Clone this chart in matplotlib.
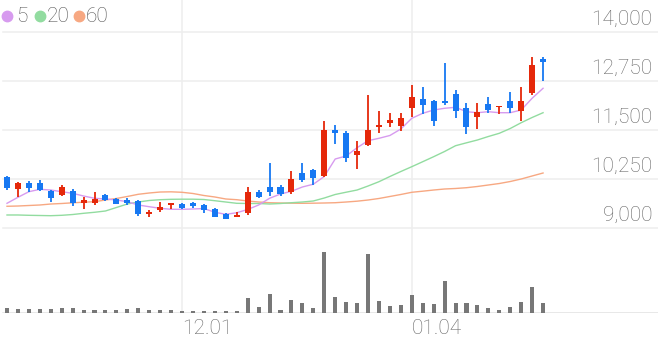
import numpy as np
import pandas as pd
import matplotlib
matplotlib.use("Agg")
import matplotlib.pyplot as plt
from matplotlib.lines import Line2D

# Trading days (KRX, Nov 2020 - Jan 2021)
dates = pd.bdate_range("2020-11-09", "2021-01-20")
dates = dates[~dates.isin(pd.to_datetime(["2020-12-25", "2020-12-31", "2021-01-01"]))]
date_labels = dates.strftime("%m.%d").tolist()
tick_labels = ["12.01", "01.04"]

open_ = [10301, 9987, 10156, 10140, 9944, 9834, 9944, 9645, 9630, 9842,
         9747, 9714, 9696, 9357, 9467, 9587, 9612, 9630, 9587, 9492,
         9349, 9281, 9375, 9911, 10054, 10054, 9918, 10395, 10480, 10327,
         11500, 11416, 10862, 11117, 11569, 11666, 11594, 12054, 12298, 12247,
         12247, 12411, 12054, 11824, 12156, 12079, 12247, 11985, 12436, 13311]
high = [10320, 10181, 10207, 10224, 9960, 10089, 9987, 9783, 9911, 9867,
        9760, 9758, 9710, 9459, 9671, 9650, 9630, 9671, 9600, 9510,
        9375, 9416, 10038, 9969, 10650, 10089, 10462, 10650, 10497, 11730,
        11628, 11474, 11219, 12393, 11985, 11926, 11941, 12648, 12589, 12260,
        13202, 12520, 12181, 12181, 12334, 12112, 12477, 12589, 13355, 13355]
low = [9969, 9798, 9911, 9951, 9671, 9816, 9561, 9477, 9587, 9689,
       9605, 9587, 9306, 9288, 9416, 9485, 9485, 9518, 9390, 9280,
       9222, 9270, 9332, 9775, 9824, 9824, 9867, 10181, 10097, 10309,
       11143, 10691, 10497, 11092, 11416, 11584, 11482, 11839, 11908, 11602,
       12138, 11798, 11398, 11526, 11941, 11901, 11941, 11737, 12393, 12758]
close = [10020, 10156, 10020, 9969, 9773, 10054, 9630, 9714, 9747, 9714,
         9620, 9645, 9365, 9416, 9528, 9645, 9503, 9561, 9459, 9288,
         9237, 9339, 9911, 9783, 9911, 9860, 10250, 10224, 10268, 11500,
         11416, 10778, 10964, 11500, 11620, 11747, 11798, 12349, 12138, 11730,
         12181, 11992, 11584, 11952, 12010, 12112, 12054, 12247, 13158, 13242]
volume = [50000, 40000, 35000, 35000, 35000, 45000, 45000, 30000, 30000, 30000,
          30000, 35000, 45000, 30000, 30000, 25000, 20000, 20000, 20000, 20000,
          20000, 20000, 150000, 60000, 190000, 33000, 130000, 100000, 47000, 607000,
          163000, 113000, 100000, 590000, 123000, 67000, 80000, 183000, 97000, 90000,
          323000, 100000, 97000, 83000, 50000, 30000, 63000, 113000, 257000, 97000]

ma5 = [9630, 9783, 9926, 9987, 9969, 9926, 9885, 9816, 9758, 9740,
       9714, 9671, 9587, 9543, 9503, 9477, 9477, 9485, 9497, 9401,
       9349, 9390, 9472, 9587, 9758, 9867, 9936, 10046, 10117, 10314,
       10760, 10837, 11048, 11227, 11288, 11360, 11525, 11798, 11926, 12010,
       12054, 12079, 11967, 11941, 11967, 11941, 11941, 12010, 12309, 12564]
ma20 = [9332, 9332, 9324, 9319, 9314, 9324, 9344, 9375, 9401, 9434,
        9523, 9612, 9663, 9702, 9722, 9732, 9735, 9735, 9727, 9696,
        9663, 9630, 9625, 9625, 9612, 9625, 9645, 9663, 9689, 9765,
        9855, 9913, 9969, 10071, 10181, 10314, 10441, 10564, 10691, 10819,
        10952, 11099, 11173, 11245, 11334, 11416, 11538, 11686, 11819, 11941]
ma60 = [9554, 9561, 9574, 9587, 9612, 9625, 9643, 9658, 9671, 9714,
        9753, 9804, 9860, 9893, 9918, 9923, 9911, 9880, 9829, 9791,
        9740, 9722, 9689, 9663, 9645, 9638, 9633, 9630, 9633, 9638,
        9645, 9663, 9684, 9714, 9753, 9804, 9855, 9911, 9939, 9969,
        9995, 10008, 10028, 10059, 10097, 10135, 10186, 10250, 10327, 10403]

price_ticks = [9000, 10250, 11500, 12750, 14000]
ma_names = ["5", "20", "60"]

RED = "#E5280A"
BLUE = "#1778F2"
MA_COLORS = ["#D79BEF", "#92DCA0", "#F7A882"]
GRID = "#EEEEEE"
TEXT = "#666666"
FONT = ["Roboto", "DejaVu Sans"]

W, H = 658, 342
fig = plt.figure(figsize=(W / 100, H / 100), dpi=100)
ax = fig.add_axes([0, (H - 240) / H, 1, 240 / H])
axv = fig.add_axes([0, (H - 313) / H, 1, 73 / H])

x = np.arange(len(close))
o = np.array(open_); c = np.array(close)
up = c >= o
col = np.where(up, RED, BLUE)
xlim = (-7 / 10.94, (W - 7) / 10.94)

for a in (ax, axv):
    a.set_xlim(*xlim)
    a.axis("off")

ax.set_ylim(8694, 14816)
for v in price_ticks:
    ax.axhline(v, xmin=3 / W, color=GRID, lw=1.1, zorder=0)
    ax.annotate(f"{v:,}", xy=(1, v), xycoords=("axes fraction", "data"),
                xytext=(-6, 7), textcoords="offset pixels", ha="right",
                va="baseline", fontsize=15, color=TEXT, family=FONT, weight="light")

tick_idx = [date_labels.index(t) for t in tick_labels]
for i, t in zip(tick_idx, tick_labels):
    ax.axvline(i, color=GRID, lw=1.1, zorder=0)
    axv.axvline(i, color=GRID, lw=1.1, zorder=0)
    axv.annotate(t, xy=(i, 0), xytext=(0, -6), textcoords="offset pixels",
                 ha="left", va="top", fontsize=15, color=TEXT, family=FONT,
                 weight="light", annotation_clip=False)

# moving averages
for ma, mc in zip([ma60, ma20, ma5], MA_COLORS[::-1]):
    ax.plot(x, ma, color=mc, lw=1.0, zorder=2)

# candles
ax.vlines(x, low, high, color=col, lw=1.3, zorder=3)
ax.bar(x, np.abs(c - o), bottom=np.minimum(o, c), width=0.55, color=col,
       zorder=4, linewidth=0)

# volume
axv.set_ylim(0, max(volume) * 1.2)
axv.bar(x, volume, width=0.37, color="#777777", linewidth=0, zorder=2)
axv.axhline(0, xmin=3 / W, color="#E2E2E2", lw=1.1, zorder=1)

# legend
ly = 1 - 16 / H
for px, tx, name, mc in zip([7, 40, 79], [16, 47, 86], ma_names, MA_COLORS):
    fig.add_artist(Line2D([px / W], [ly], marker="o", markersize=7.5, color=mc,
                          transform=fig.transFigure))
    fig.text(tx / W, ly, name, ha="left", va="center", fontsize=15,
             color="#555555", family=FONT, weight="light")

fig.savefig("out.png", dpi=100)
